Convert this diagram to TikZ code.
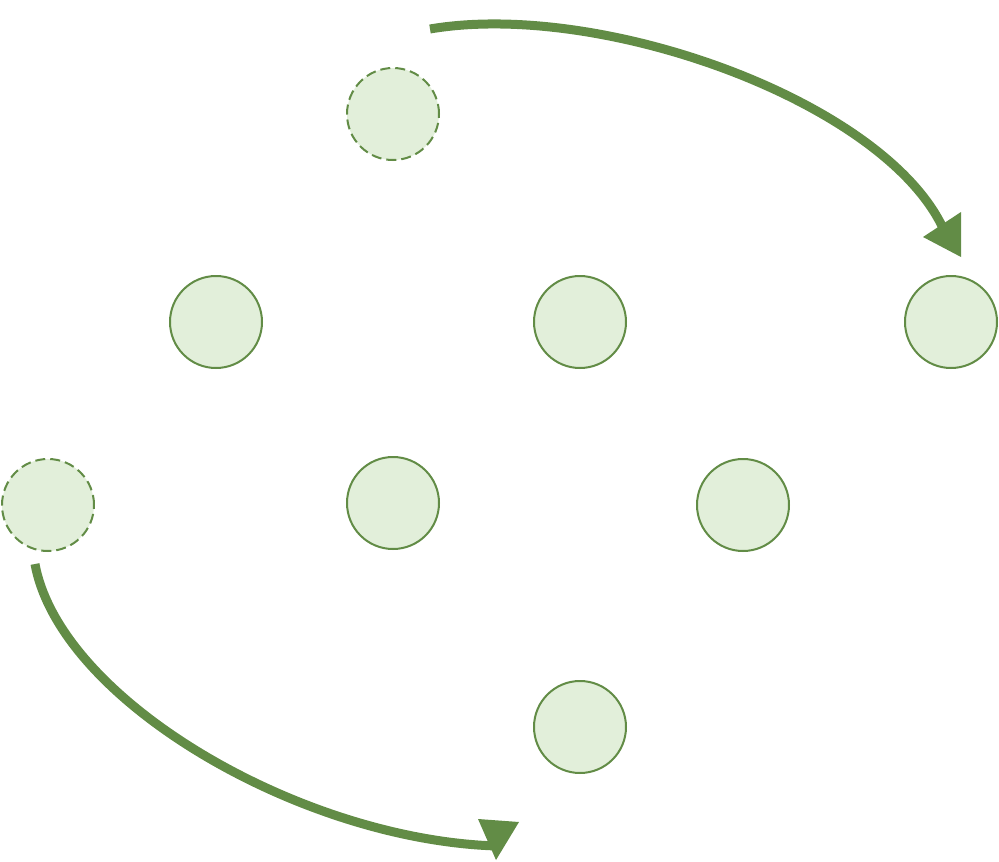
\documentclass[tikz,border=0pt]{standalone}
\begin{document}
\begin{tikzpicture}[x=1pt,y=-1pt,
  ball/.style={circle,draw=dkgreen,fill=ltgreen,line width=2pt,minimum size=92pt,inner sep=0pt},
  ghost/.style={ball,dash pattern=on 10pt off 5pt},
  curvearrow/.style={draw=dkgreen,line width=9pt},
  headtri/.style={fill=dkgreen}]
\definecolor{dkgreen}{HTML}{628C46}
\definecolor{ltgreen}{HTML}{E2EFDA}
\useasboundingbox (0,0) rectangle (999,862);
\node[ghost] (g1) at (393,114) {};
\node[ball] (a1) at (216,322) {};
\node[ball] (a2) at (580,322) {};
\node[ball] (a3) at (951,322) {};
\node[ghost] (g2) at (48,505) {};
\node[ball] (b1) at (393,503) {};
\node[ball] (b2) at (743,505) {};
\node[ball] (c1) at (580,727) {};
\coordinate (s1) at (430,29);
\coordinate (e1) at (942,226);
\coordinate (s2) at (35,564);
\coordinate (e2) at (497,846);
\draw[curvearrow] (s1) .. controls (600,0) and (880,100) .. (e1);
\fill[headtri] (923,237) -- (961,212) -- (961,257) -- cycle;
\draw[curvearrow] (s2) .. controls (60,700) and (300,840) .. (e2);
\fill[headtri] (478,819) -- (519,822) -- (496,860) -- cycle;
\end{tikzpicture}
\end{document}
